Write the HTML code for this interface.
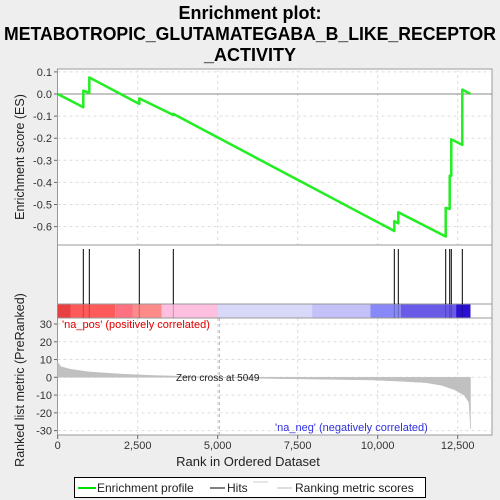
<!DOCTYPE html>
<html><head><meta charset="utf-8"><style>
body{margin:0;background:#eeeeee;font-family:"Liberation Sans",sans-serif;}
svg{display:block}
</style></head><body>
<svg width="500" height="500" viewBox="0 0 500 500" xmlns="http://www.w3.org/2000/svg">
<rect width="500" height="500" fill="#eeeeee"/>
<g font-weight="bold" font-size="18" text-anchor="middle" fill="#000">
<text x="250" y="19">Enrichment plot:</text>
<text x="250" y="40" textLength="492" lengthAdjust="spacingAndGlyphs">METABOTROPIC_GLUTAMATEGABA_B_LIKE_RECEPTOR</text>
<text x="250" y="61">_ACTIVITY</text>
</g>
<rect x="57.5" y="69" width="434.5" height="366" fill="#fff" stroke="#999"/>
<g id="grid" stroke="#ddd" stroke-dasharray="3,3"></g>
<line x1="57.5" y1="245" x2="492" y2="245" stroke="#999"/>
<line x1="57.5" y1="304" x2="492" y2="304" stroke="#999"/>
<line x1="57.5" y1="318" x2="492" y2="318" stroke="#999"/>
<g id="colorbar"></g>
<g id="hits"></g>
<g id="metric"></g>
<g id="es"></g>
<g id="axes" font-size="11" fill="#333"></g>
<text x="62" y="328" font-size="11" fill="#e00000">'na_pos' (positively correlated)</text>
<text x="275" y="431" font-size="11" fill="#3030e0">'na_neg' (negatively correlated)</text>
<text x="176" y="381" font-size="10" fill="#222">Zero cross at 5049</text>
<text x="248" y="466" font-size="13" text-anchor="middle" fill="#222">Rank in Ordered Dataset</text>
<text transform="translate(24,157) rotate(-90)" font-size="12.5" text-anchor="middle" fill="#222">Enrichment score (ES)</text>
<text transform="translate(24,380) rotate(-90)" font-size="12.5" text-anchor="middle" fill="#222">Ranked list metric (PreRanked)</text>
<g>
<rect x="74.5" y="477.5" width="351" height="20" fill="#fff" stroke="#000"/>
<line x1="78" y1="488" x2="96" y2="488" stroke="#00e000" stroke-width="2"/>
<text x="97" y="492" font-size="12" fill="#222">Enrichment profile</text>
<line x1="210" y1="488" x2="225" y2="488" stroke="#000"/>
<text x="227" y="492" font-size="12" fill="#222">Hits</text>
<line x1="253" y1="482" x2="268" y2="482" stroke="#ccc"/>
<line x1="277" y1="488" x2="292" y2="488" stroke="#bbb"/>
<text x="295" y="492" font-size="12" fill="#222">Ranking metric scores</text>
</g>
</svg>
<script>
const hitRanks=[800,988,2550,3613,10519,10644,12125,12250,12300,12644];
const esBefore=[-0.06,0.005,-0.045,-0.095,-0.62,-0.585,-0.645,-0.52,-0.37,-0.23];
const esAfter=[0.015,0.075,-0.02,-0.09,-0.575,-0.535,-0.515,-0.37,-0.205,0.02];
const totalRanks=12900;
const metricRanks=[0,100,400,1000,2000,3000,4000,5049,6000,8000,9800,10500,11500,12000,12400,12700,12850,12880,12900];
const metricValues=[8.5,6,4.5,3,1.8,1,0.5,0,-0.5,-1,-1.5,-2,-3,-4.5,-7,-10,-14,-22,-29];
const esTicks=[0.1,0,-0.1,-0.2,-0.3,-0.4,-0.5,-0.6];
const metricTicks=[30,20,10,0,-10,-20,-30];
const xTicks=[0,2500,5000,7500,10000,12500];
const barEdges=[0,400,1800,2350,3250,5010,7950,9770,10720,12450,12900];
const barColors=['#e84040','#ff5a5a','#ff7080','#ff8a8a','#ffc0e0','#d8d8f8','#c4c0f8','#8888f8','#6a5ae8','#2a10d0'];
const NS='http://www.w3.org/2000/svg';
const X=r=>57.7+r*0.032;
const YE=v=>94-v*221;
const YM=v=>377.3-v*1.777;
function mk(tag,attrs,parent){const e=document.createElementNS(NS,tag);for(const k in attrs)e.setAttribute(k,attrs[k]);document.getElementById(parent).appendChild(e);return e;}
xTicks.slice(1).forEach(t=>{mk('line',{x1:X(t),x2:X(t),y1:69,y2:245},'grid');mk('line',{x1:X(t),x2:X(t),y1:318,y2:435},'grid');});
esTicks.forEach(t=>{if(t!==0)mk('line',{x1:57.5,x2:492,y1:YE(t),y2:YE(t)},'grid');});
metricTicks.forEach(t=>mk('line',{x1:57.5,x2:492,y1:YM(t),y2:YM(t)},'grid'));
mk('line',{x1:57.5,x2:492,y1:YE(0),y2:YE(0),stroke:'#888','stroke-dasharray':'none'},'grid');
mk('line',{x1:X(5049),x2:X(5049),y1:318,y2:435,stroke:'#aaa'},'grid');
for(let i=0;i<barColors.length;i++){const r=mk('rect',{x:X(barEdges[i]),y:304.5,width:X(barEdges[i+1])-X(barEdges[i]),height:13,fill:barColors[i]},'colorbar');

}
hitRanks.forEach(h=>{const l=mk('line',{x1:X(h),x2:X(h),y1:249,y2:304,stroke:'#000','stroke-width':1},'hits');


mk('line',{x1:X(h),x2:X(h),y1:304,y2:318,stroke:'rgba(0,0,0,0.25)'},'hits');});
let p='M'+X(metricRanks[0])+','+YM(0);
metricRanks.forEach((r,i)=>p+=' L'+X(r)+','+YM(metricValues[i]));
p+=' L'+X(metricRanks[metricRanks.length-1])+','+YM(0)+'Z';
const ma=mk('path',{d:p,fill:'#c0c0c0',stroke:'#c0c0c0','stroke-width':0.5},'metric');


let d='M'+X(0)+','+YE(0);
hitRanks.forEach((h,i)=>{d+=' L'+X(h)+','+YE(esBefore[i])+' L'+X(h)+','+YE(esAfter[i]);});
d+=' L'+X(totalRanks)+','+YE(0);
const es=mk('path',{d:d,fill:'none',stroke:'#22ee22','stroke-width':2.5,'stroke-linejoin':'round'},'es');


esTicks.forEach(t=>{mk('line',{x1:54,x2:57.5,y1:YE(t),y2:YE(t),stroke:'#666'},'axes');const tx=mk('text',{x:52,y:YE(t)+4,'text-anchor':'end'},'axes');tx.textContent=t.toFixed(1);

});
metricTicks.forEach(t=>{mk('line',{x1:54,x2:57.5,y1:YM(t),y2:YM(t),stroke:'#666'},'axes');const tx=mk('text',{x:52,y:YM(t)+4,'text-anchor':'end'},'axes');tx.textContent=t;

});
xTicks.forEach(t=>{mk('line',{x1:X(t),x2:X(t),y1:435,y2:439,stroke:'#666'},'axes');const tx=mk('text',{x:X(t),y:449,'text-anchor':'middle'},'axes');tx.textContent=t.toLocaleString('en-US');

});
</script>
</body></html>
